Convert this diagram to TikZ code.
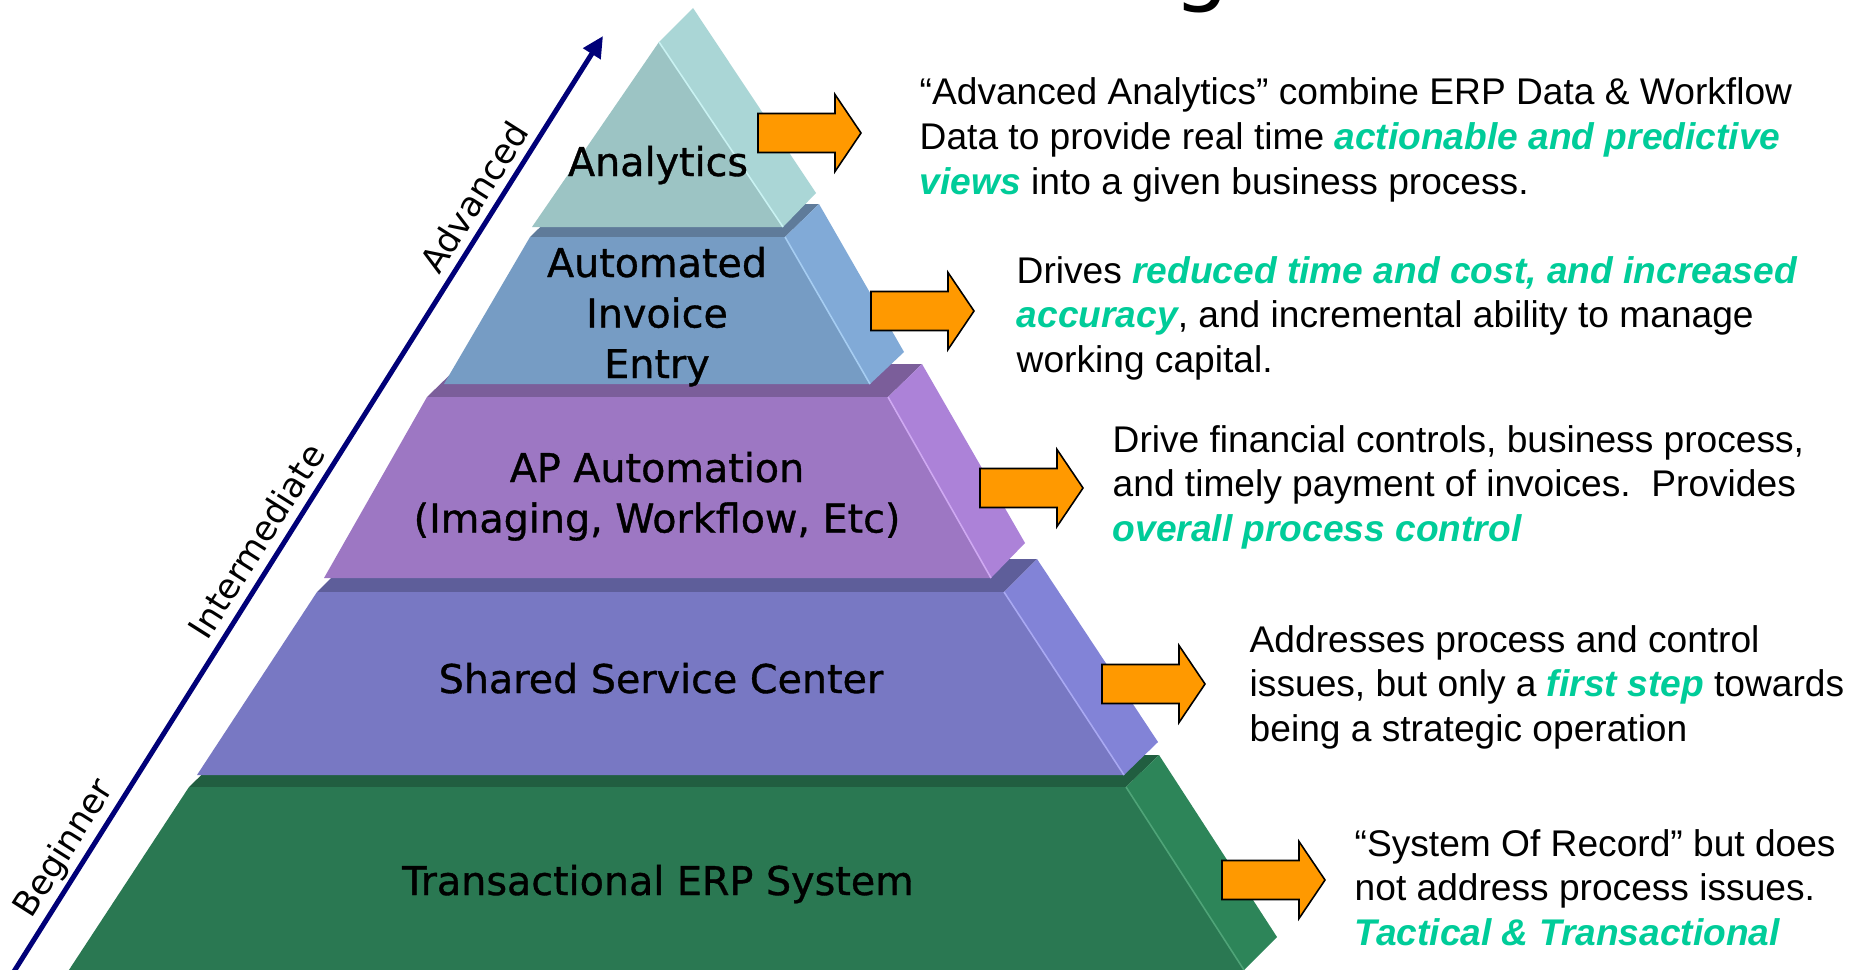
\documentclass[tikz,border=0pt]{standalone}
\usepackage{fontspec}
\setmainfont{Liberation Sans}
\newfontfamily\labfont{DejaVu Sans}
\newfontfamily\lvlfont[FakeBold=0.9]{DejaVu Sans}
\usetikzlibrary{arrows.meta}
\definecolor{aFront}{HTML}{9CC4C4}
\definecolor{aSide}{HTML}{AAD6D6}
\definecolor{aEdge}{HTML}{C9F2F2}
\definecolor{bTop}{HTML}{5F7B9A}
\definecolor{bFront}{HTML}{769CC4}
\definecolor{bSide}{HTML}{81AAD7}
\definecolor{bEdge}{HTML}{A6CDF2}
\definecolor{cTop}{HTML}{7B5E9A}
\definecolor{cFront}{HTML}{9D77C3}
\definecolor{cSide}{HTML}{AC82D8}
\definecolor{cEdge}{HTML}{CFA9F2}
\definecolor{dTop}{HTML}{5E5E9A}
\definecolor{dFront}{HTML}{7878C3}
\definecolor{dSide}{HTML}{8283D7}
\definecolor{dEdge}{HTML}{A9A9F2}
\definecolor{eTop}{HTML}{215E40}
\definecolor{eFront}{HTML}{2A7852}
\definecolor{eSide}{HTML}{2D8559}
\definecolor{eEdge}{HTML}{4FA478}
\definecolor{arrorange}{HTML}{FF9900}
\definecolor{hlgreen}{HTML}{00CC99}
\definecolor{navyblue}{HTML}{000078}
\newcommand\hl[1]{\textcolor{hlgreen}{\bfseries\itshape #1}}
\newcommand\cln[1]{\hbox to 0pt{\hss #1\hss}}
\tikzset{
  lvl/.style={font=\lvlfont\fontsize{11.27pt}{14.37pt}\selectfont, inner sep=0pt, anchor=base, text=black},
  desc/.style={font=\fontsize{10.56pt}{12.66pt}\selectfont, inner sep=0pt, anchor=base west, text=black},
  stage/.style={font=\labfont\fontsize{9.8pt}{12pt}\selectfont, inner sep=0pt, anchor=base, rotate=57.68},
  edgeline/.style={line width=0.45pt},
  progress/.style={draw=navyblue, line width=1.42pt, -{Triangle[length=6pt,width=5.6pt]}},
  pics/blockarrow/.style={code={
    \fill[draw=black, line width=0.45pt, fill=arrorange]
      (0,-19.5) -- (77,-19.5) -- (77,-38.5) -- (103,0) -- (77,38.5) -- (77,19.5) -- (0,19.5) -- cycle;}},
}
\begin{document}
\begin{tikzpicture}[x=0.01cm, y=-0.01cm]
\useasboundingbox (0,0) rectangle (1849,970);
\fill[white] (0,0) rectangle (1849,970);

% title descender (cut off at top)
\node[font=\labfont\fontsize{25.3pt}{30pt}\selectfont, inner sep=0pt, anchor=base west] (title) at (1173,-5.5) {g};

% Layer 5: Transactional ERP System
\fill[eTop] (189,787) -- (1126,787) -- (1159,755) -- (222,755) -- cycle;
\fill[eSide] (1126,787) -- (1159,755) -- (1277,937) -- (1244,970) -- cycle;
\fill[eFront] (189,787) -- (1126,787) -- (1244,970) -- (1247,976) -- (65,976) -- cycle;
\draw[eEdge, edgeline] (1126,787) -- (1244,970);

% Layer 4: Shared Service Center
\fill[dTop] (317,592) -- (1004,592) -- (1037,559) -- (350,559) -- cycle;
\fill[dSide] (1004,592) -- (1037,559) -- (1158,742) -- (1124,775) -- cycle;
\fill[dFront] (317,592) -- (1004,592) -- (1124,775) -- (197,775) -- cycle;
\draw[dEdge, edgeline] (1004,592) -- (1124,775);

% Layer 3: AP Automation
\fill[cTop] (427,397) -- (888,397) -- (922,364) -- (461,364) -- cycle;
\fill[cSide] (888,397) -- (922,364) -- (1025,543) -- (991,578) -- cycle;
\fill[cFront] (427,397) -- (888,397) -- (991,578) -- (324,578) -- cycle;
\draw[cEdge, edgeline] (888,397) -- (991,578);

% Layer 2: Automated Invoice Entry
\fill[bTop] (530,237) -- (785,237) -- (819,204) -- (564,204) -- cycle;
\fill[bSide] (785,237) -- (819,204) -- (904,352) -- (870,384) -- cycle;
\fill[bFront] (530,237) -- (785,237) -- (870,384) -- (444,384) -- cycle;
\draw[bEdge, edgeline] (785,237) -- (870,384);

% Layer 1: Analytics
\fill[aSide] (659,42) -- (693,8) -- (816,193) -- (783,227) -- cycle;
\fill[aFront] (659,42) -- (783,227) -- (532,227) -- cycle;
\draw[aEdge, edgeline] (659,42) -- (783,227);

% layer labels
\node[lvl] (lab1) at (658,176) {Analytics};
\node[lvl] (lab2) at (657,277) {\vtop{\cln{Automated}\cln{Invoice}\cln{Entry}}};
\node[lvl] (lab3) at (657,482) {\vtop{\cln{AP Automation}\cln{(Imaging, Workflow, Etc)}}};
\node[lvl] (lab4) at (661,693) {Shared Service Center};
\node[lvl] (lab5) at (658,895) {Transactional ERP System};

% progression arrow
\coordinate (arrS) at (13,973);
\coordinate (arrE) at (603,36);
\draw[progress] (arrS) -- (arrE);
\node[stage] (beg) at (73,854) {Beginner};
\node[stage] (mid) at (267,548) {Intermediate};
\node[stage] (adv) at (485,204) {Advanced};

% orange arrows
\pic at (758,133) {blockarrow};
\pic at (871,311) {blockarrow};
\pic at (980,488) {blockarrow};
\pic at (1102,684) {blockarrow};
\pic at (1222,880) {blockarrow};

% descriptions
\node[desc] (desc1) at (919,105) {\vtop{%
  \hbox{“Advanced Analytics” combine ERP Data \& Workflow}%
  \hbox{Data to provide real time \hl{actionable and predictive}}%
  \hbox{\hl{views} into a given business process.}}};
\node[desc] (desc2) at (1016,283) {\vtop{%
  \hbox{Drives \hl{reduced time and cost, and increased}}%
  \hbox{\hl{accuracy}, and incremental ability to manage}%
  \hbox{working capital.}}};
\node[desc] (desc3) at (1112,452) {\vtop{%
  \hbox{Drive financial controls, business process,}%
  \hbox{and timely payment of invoices.\ \ Provides}%
  \hbox{\hl{overall process control}}}};
\node[desc] (desc4) at (1249,652) {\vtop{%
  \hbox{Addresses process and control}%
  \hbox{issues, but only a \hl{first step} towards}%
  \hbox{being a strategic operation}}};
\node[desc] (desc5) at (1354,856) {\vtop{%
  \hbox{“System Of Record” but does}%
  \hbox{not address process issues.}%
  \hbox{\hl{Tactical \& Transactional}}}};
\end{tikzpicture}
\end{document}
